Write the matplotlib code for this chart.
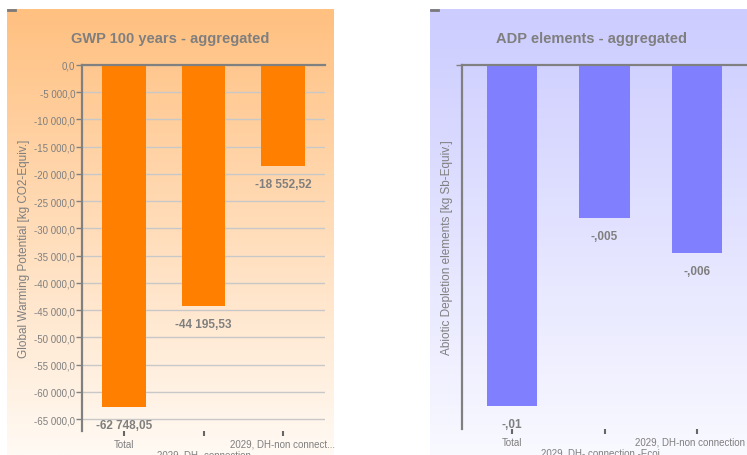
import numpy as np
import matplotlib.pyplot as plt
from matplotlib.colors import LinearSegmentedColormap
from matplotlib.transforms import ScaledTranslation

plt.rcParams['font.family'] = ['Liberation Sans', 'DejaVu Sans']

# data
categories = ['Total', '\n2029, DH- connection', '2029, DH-non connect...']
categories_adp = ['Total', '\n2029, DH- connection -Ecoi...', '2029, DH-non connection']
gwp_values = [-62748.05, -44195.53, -18552.52]
gwp_labels = ['-62 748,05', '-44 195,53', '-18 552,52']
adp_values = [-0.01114, -0.0050, -0.00614]
adp_labels = ['-,01', '-,005', '-,006']
gwp_ticks = np.arange(0, -65001, -5000)

W, H = 747, 456
fig = plt.figure(figsize=(W / 100, H / 100), dpi=100)

grey = '#808080'
txt = '#7f7f7f'


def panel_bg(x0, x1, top_col, bot_col):
    # gradient background behind each chart
    bg = fig.add_axes([x0 / W, 0, (x1 - x0) / W, 1 - 10 / H], zorder=0)
    cmap = LinearSegmentedColormap.from_list('g', [top_col, bot_col])
    bg.imshow(np.linspace(0, 1, 256).reshape(-1, 1), aspect='auto', cmap=cmap,
              extent=[0, 1, 0, 1])
    bg.set_axis_off()
    # small dark tab mark
    fig.add_artist(plt.Line2D([(x0 + 1) / W, (x0 + 8) / W], [1 - 11 / H, 1 - 11 / H],
                              color='#7a7a7a', lw=2))


def fmt_gwp(v):
    s = '{:,.1f}'.format(v)
    return s.replace(',', ' ').replace('.', ',')


panel_bg(7, 334, '#ffc080', '#fffaf4')
panel_bg(430, 747, '#ccccff', '#f9f9ff')


def setup(ax, ylabel):
    ax.set_facecolor('none')
    ax.spines['right'].set_visible(False)
    ax.spines['bottom'].set_visible(False)
    for s in ['left', 'top']:
        ax.spines[s].set_color(grey)
        ax.spines[s].set_linewidth(1.6)
    ax.tick_params(axis='x', length=3.5, width=1.5, color='#666666', labelsize=7,
                   labelcolor=txt, pad=2)
    ax.tick_params(axis='y', length=4, width=1, color=grey, labelsize=7,
                   labelcolor=txt, pad=1)
    ax.set_ylabel(ylabel, fontsize=8.5, color=txt)
    for lab in ax.get_xticklabels():
        lab.set_linespacing(1.05)


# GWP chart
ax1 = fig.add_axes([82 / W, 1 - 432 / H, (325 - 82) / W, (432 - 66) / H], zorder=1)
x = np.arange(len(gwp_values))
ax1.bar(x, gwp_values, width=0.55, color='#ff8000', zorder=2)
ax1.set_xlim(-0.53, 2.53)
ax1.set_ylim(-67200, 0)
ax1.set_yticks(gwp_ticks)
ax1.set_yticklabels([fmt_gwp(t) for t in gwp_ticks])
ax1.set_xticks(x)
ax1.set_xticklabels(categories, va='top')
ax1.yaxis.grid(True, color='#c8c8c8', lw=1)
ax1.set_axisbelow(True)
setup(ax1, 'Global Warming Potential [kg CO2-Equiv.]')
ax1.yaxis.set_label_coords(-0.215, 0.5)
for xi, v, lab in zip(x, gwp_values, gwp_labels):
    ax1.annotate(lab, (xi, v), xytext=(0, -13), textcoords='offset points',
                 ha='center', va='center', fontsize=8.5, fontweight='bold', color=txt)
fig.text(170 / W, 1 - 39 / H, 'GWP 100 years - aggregated', ha='center', va='center',
         fontsize=10.5, fontweight='bold', color=txt)

# ADP chart
ax2 = fig.add_axes([462 / W, 1 - 430 / H, (747 - 462) / W, (430 - 66) / H], zorder=1)
ax2.bar(x, adp_values, width=0.55, color='#8080ff', zorder=2)
ax2.set_xlim(-0.54, 2.54)
ax2.set_ylim(-0.0119, 0)
ax2.set_yticks([0])
ax2.set_yticklabels([''])
ax2.set_xticks(x)
ax2.set_xticklabels(categories_adp, va='top')
setup(ax2, 'Abiotic Depletion elements [kg Sb-Equiv.]')
ax2.yaxis.set_label_coords(-0.03, 0.5)
# last label is pushed left to stay inside the panel
last = ax2.get_xticklabels()[-1]
last.set_transform(last.get_transform() + ScaledTranslation(-0.07, 0, fig.dpi_scale_trans))
for xi, v, lab in zip(x, adp_values, adp_labels):
    ax2.annotate(lab, (xi, v), xytext=(0, -13), textcoords='offset points',
                 ha='center', va='center', fontsize=8.5, fontweight='bold', color=txt)
fig.text(592 / W, 1 - 39 / H, 'ADP elements - aggregated', ha='center', va='center',
         fontsize=10.5, fontweight='bold', color=txt)

plt.savefig('out.png', dpi=100)
plt.close()
